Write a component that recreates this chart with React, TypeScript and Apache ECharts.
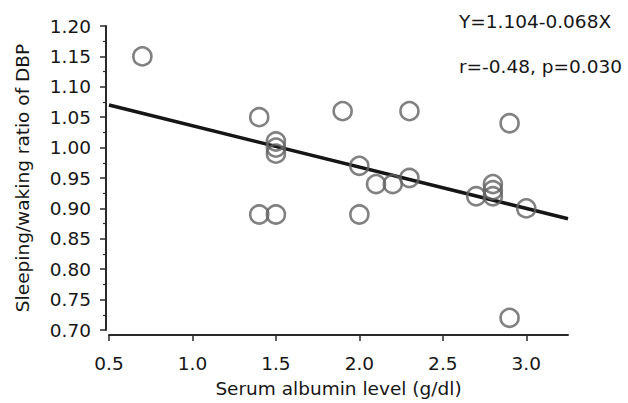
import React, { useEffect, useRef } from "react";
import * as echarts from "echarts";

const albumin = [0.7, 1.4, 1.4, 1.5, 1.5, 1.5, 1.5, 1.9, 2.0, 2.0, 2.1, 2.2, 2.3, 2.3, 2.7, 2.8, 2.8, 2.8, 2.9, 2.9, 3.0];
const ratio = [1.15, 1.05, 0.89, 1.01, 1.0, 0.99, 0.89, 1.06, 0.97, 0.89, 0.94, 0.94, 1.06, 0.95, 0.92, 0.94, 0.93, 0.92, 1.04, 0.72, 0.9];
const intercept = 1.104;
const slope = -0.068;
const fitRange = [0.5, 3.25];
const xTicks = [0.5, 1.0, 1.5, 2.0, 2.5, 3.0];
const equationText = "Y=1.104-0.068X";
const statsText = "r=-0.48, p=0.030";
const xName = "Serum albumin level (g/dl)";
const yName = "Sleeping/waking ratio of DBP";

const FONT = "'DejaVu Sans', sans-serif";
const FS = 18.5;
const TXT = "#161616";
const AX = "#2a2a2a";

export default function App() {
  const ref = useRef<HTMLDivElement>(null);
  useEffect(() => {
    if (!ref.current) return;
    const chart = echarts.init(ref.current, undefined, { renderer: "svg" });
    const points = albumin.map((x, i) => [x, ratio[i]]);
    const fit = fitRange.map((x) => [x, intercept + slope * x]);
    chart.setOption({
      animation: false,
      backgroundColor: "#ffffff",
      grid: { left: 109, right: 60, top: 26, bottom: 71, containLabel: false },
      xAxis: {
        type: "value",
        min: 0.5,
        max: 3.25,
        interval: 0.5,
        offset: 5,
        name: xName,
        nameLocation: "middle",
        nameGap: 44,
        nameTextStyle: { fontFamily: FONT, fontSize: FS, color: TXT },
        axisLine: { show: true, lineStyle: { color: AX, width: 2 } },
        axisTick: { show: true, length: 6, lineStyle: { color: AX, width: 1.5 }, customValues: xTicks },
        axisLabel: {
          fontFamily: FONT,
          fontSize: FS,
          color: TXT,
          margin: 19,
          customValues: xTicks,
          formatter: (v: number) => v.toFixed(1),
        },
        splitLine: { show: false },
      },
      yAxis: {
        type: "value",
        min: 0.7,
        max: 1.2,
        interval: 0.05,
        offset: 3,
        name: yName,
        nameLocation: "middle",
        nameGap: 74,
        nameTextStyle: { fontFamily: FONT, fontSize: FS, color: TXT },
        axisLine: { show: true, lineStyle: { color: AX, width: 2 } },
        axisTick: { show: true, length: 6, lineStyle: { color: AX, width: 1.5 } },
        minorTick: { show: true, splitNumber: 2, length: 3, lineStyle: { color: AX, width: 1.2 } },
        axisLabel: {
          fontFamily: FONT,
          fontSize: FS,
          color: TXT,
          margin: 15,
          formatter: (v: number) => v.toFixed(2),
        },
        splitLine: { show: false },
        minorSplitLine: { show: false },
      },
      graphic: [
        {
          type: "text",
          left: 459,
          top: 12,
          style: { text: equationText, fontFamily: FONT, fontSize: FS, fill: TXT },
        },
        {
          type: "text",
          left: 459,
          top: 57,
          style: { text: statsText, fontFamily: FONT, fontSize: FS, fill: TXT },
        },
      ],
      series: [
        {
          type: "line",
          data: fit,
          symbol: "none",
          lineStyle: { color: "#151515", width: 3.5 },
          z: 2,
        },
        {
          type: "scatter",
          data: points,
          symbol: "circle",
          symbolSize: 18,
          itemStyle: { color: "rgba(0,0,0,0)", borderColor: "#626262", borderWidth: 2.6 },
          z: 3,
        },
      ],
    });
    return () => chart.dispose();
  }, []);
  return (
    <div
      ref={ref}
      style={{ position: "fixed", left: 0, top: 0, width: 628, height: 403, background: "#fff" }}
    />
  );
}
